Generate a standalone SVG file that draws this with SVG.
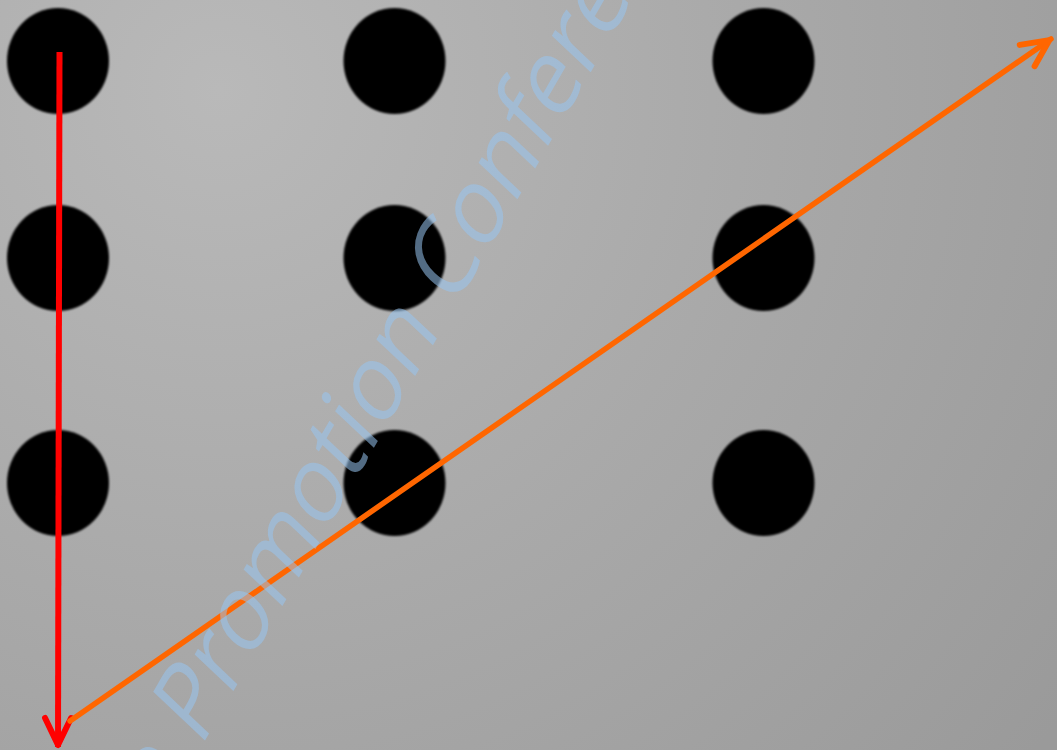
<svg xmlns="http://www.w3.org/2000/svg" width="1057" height="750" viewBox="0 0 1057 750">
  <defs>
    <radialGradient id="bg" gradientUnits="userSpaceOnUse" cx="220" cy="90" r="1050">
      <stop offset="0" stop-color="#b9b9b9"/>
      <stop offset="0.5" stop-color="#a9a9a9"/>
      <stop offset="1" stop-color="#9a9a9a"/>
    </radialGradient>
    <filter id="soft" x="-10%" y="-10%" width="120%" height="120%">
      <feGaussianBlur stdDeviation="1.2"/>
    </filter>
    <marker id="ahRed" markerUnits="userSpaceOnUse" viewBox="-34 -18 40 36" markerWidth="40" markerHeight="36" refX="0" refY="0" orient="auto" overflow="visible">
      <path d="M-29,-13 L-2,0 L-29,13" fill="none" stroke="#ff0000" stroke-width="6" stroke-linecap="round" stroke-linejoin="round"/>
    </marker>
    <marker id="ahOrange" markerUnits="userSpaceOnUse" viewBox="-34 -18 40 36" markerWidth="40" markerHeight="36" refX="0" refY="0" orient="auto" overflow="visible">
      <path d="M-29,-13 L-2,0 L-29,13" fill="none" stroke="#ff6600" stroke-width="6" stroke-linecap="round" stroke-linejoin="round"/>
    </marker>
  </defs>
  <style>
    .dot { fill: #040404; filter: url(#soft); }
    .wm { font-family: "Open Sans", "Liberation Sans", sans-serif; font-size: 97px; fill: #98c4f0; fill-opacity: 0.55; }
  </style>
  <rect x="0" y="0" width="1057" height="750" fill="url(#bg)"/>

  <g id="dot-r1c1"><ellipse class="dot" cx="58" cy="61" rx="51" ry="53"/></g>
  <g id="dot-r1c2"><ellipse class="dot" cx="394.5" cy="61" rx="51" ry="53"/></g>
  <g id="dot-r1c3"><ellipse class="dot" cx="763.5" cy="61" rx="51" ry="53"/></g>
  <g id="dot-r2c1"><ellipse class="dot" cx="58" cy="258" rx="51" ry="53"/></g>
  <g id="dot-r2c2"><ellipse class="dot" cx="394.5" cy="258" rx="51" ry="53"/></g>
  <g id="dot-r2c3"><ellipse class="dot" cx="763.5" cy="258" rx="51" ry="53"/></g>
  <g id="dot-r3c1"><ellipse class="dot" cx="58" cy="483" rx="51" ry="53"/></g>
  <g id="dot-r3c2"><ellipse class="dot" cx="394.5" cy="483" rx="51" ry="53"/></g>
  <g id="dot-r3c3"><ellipse class="dot" cx="763.5" cy="483" rx="51" ry="53"/></g>

  <g id="connectors" fill="none">
    <line x1="59.5" y1="52" x2="58" y2="747" stroke="#ff0000" stroke-width="6" marker-end="url(#ahRed)"/>
    <line x1="70" y1="721" x2="1051" y2="39" stroke="#ff6600" stroke-width="5.5" stroke-linecap="round" marker-end="url(#ahOrange)"/>
  </g>

  <g id="watermark">
    <text class="wm" transform="translate(200.3,748.4) rotate(-60) skewX(-13.4)" x="-80" y="0">e Promotion Conference</text>
  </g>
</svg>
